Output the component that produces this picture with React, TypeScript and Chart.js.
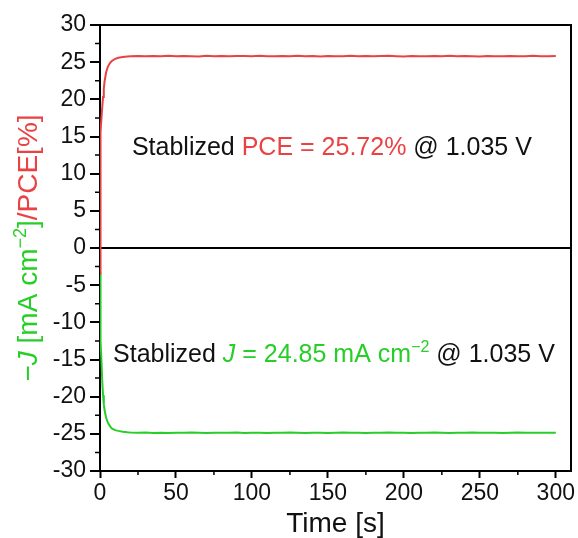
import React, { useEffect, useRef } from "react";
import { Chart, registerables } from "chart.js";

Chart.register(...registerables);

// ---- data ----
const timeS = [
  0, 0.2, 0.5, 1, 1.5, 2, 2.5, 3, 4, 5, 6, 7, 8, 10, 12, 15, 18, 20,
  25, 30, 35, 40, 45, 50, 55, 60, 65, 70, 75, 80, 85, 90, 95, 100,
  105, 110, 115, 120, 125, 130, 135, 140, 145, 150, 155, 160, 165, 170, 175, 180,
  185, 190, 195, 200, 205, 210, 215, 220, 225, 230, 235, 240, 245, 250,
  255, 260, 265, 270, 275, 280, 285, 290, 295, 300,
];

const pceValues = [
  -3.4, 12.0, 15.6, 17.6, 19.0, 20.3, 21.4, 22.4, 23.6, 24.3, 24.7, 25.0, 25.2, 25.45, 25.6, 25.7, 25.76, 25.8,
  25.82, 25.78, 25.84, 25.8, 25.86, 25.79, 25.83, 25.81, 25.77, 25.85,
  25.8, 25.83, 25.78, 25.84, 25.82, 25.79, 25.86, 25.81, 25.78, 25.83,
  25.8, 25.85, 25.79, 25.82, 25.77, 25.84, 25.81, 25.8, 25.86, 25.79,
  25.83, 25.78, 25.82, 25.85, 25.8, 25.77, 25.83, 25.81, 25.79, 25.84,
  25.8, 25.86, 25.78, 25.82, 25.8, 25.77, 25.84, 25.81, 25.79, 25.83,
  25.8, 25.78, 25.85, 25.81, 25.79, 25.82,
];

const jValues = [
  -3.3, -9.5, -12.5, -15.4, -18.0, -19.8, -21.0, -21.8, -22.8, -23.4, -23.8, -24.1, -24.3, -24.5, -24.6, -24.72, -24.8, -24.83,
  -24.86, -24.83, -24.88, -24.85, -24.9, -24.84, -24.87, -24.82, -24.86, -24.89,
  -24.84, -24.87, -24.85, -24.83, -24.88, -24.86, -24.84, -24.9, -24.85, -24.87,
  -24.83, -24.86, -24.88, -24.84, -24.85, -24.89, -24.86, -24.82, -24.87, -24.85,
  -24.88, -24.84, -24.86, -24.83, -24.87, -24.85, -24.89, -24.84, -24.86, -24.82,
  -24.85, -24.88, -24.84, -24.86, -24.83, -24.87, -24.85, -24.84, -24.88, -24.86,
  -24.83, -24.85, -24.87, -24.84, -24.86, -24.85,
];

const xMajorTicks = [0, 50, 100, 150, 200, 250, 300];
const xMinorTicks = [25, 75, 125, 175, 225, 275];
const yMajorTicks = [-30, -25, -20, -15, -10, -5, 0, 5, 10, 15, 20, 25, 30];
const yMinorTicks = [-27.5, -22.5, -17.5, -12.5, -7.5, -2.5, 2.5, 7.5, 12.5, 17.5, 22.5, 27.5];

const xRange = [0, 310];
const yRange = [-30, 30];

const pceLabelPos = [21, 13.7];
const jLabelPos = [8.6, -14.1];

const RED = "rgb(234,66,66)";
const GREEN = "rgb(40,206,40)";
const FONT = "'Liberation Sans', Arial, sans-serif";

type Seg = { text: string; color: string; size: number; italic?: boolean; dy?: number };

function drawRich(ctx: CanvasRenderingContext2D, segs: Seg[], x: number, y: number, align: "left" | "center") {
  ctx.save();
  ctx.textAlign = "left";
  let total = 0;
  const widths = segs.map((s) => {
    ctx.font = `${s.italic ? "italic " : ""}${s.size}px ${FONT}`;
    const w = ctx.measureText(s.text).width;
    total += w;
    return w;
  });
  let cx = align === "center" ? x - total / 2 : x;
  segs.forEach((s, i) => {
    ctx.font = `${s.italic ? "italic " : ""}${s.size}px ${FONT}`;
    ctx.fillStyle = s.color;
    ctx.fillText(s.text, cx, y + (s.dy || 0));
    cx += widths[i];
  });
  ctx.restore();
}

const decorPlugin = {
  id: "decor",
  afterDatasetsDraw(chart: any) {
    const ctx: CanvasRenderingContext2D = chart.ctx;
    const xs = chart.scales.x;
    const ys = chart.scales.y;
    ctx.save();
    ctx.textBaseline = "alphabetic";
    const px1 = xs.getPixelForValue(pceLabelPos[0]);
    const py1 = ys.getPixelForValue(pceLabelPos[1]) + 9;
    drawRich(ctx, [
      { text: "Stablized ", color: "#111", size: 25 },
      { text: "PCE = 25.72%", color: RED, size: 25 },
      { text: " @ 1.035 V", color: "#111", size: 25 },
    ], px1, py1, "left");
    const px2 = xs.getPixelForValue(jLabelPos[0]);
    const py2 = ys.getPixelForValue(jLabelPos[1]) + 9;
    drawRich(ctx, [
      { text: "Stablized ", color: "#111", size: 25 },
      { text: "J", color: GREEN, size: 25, italic: true },
      { text: " = 24.85 mA cm", color: GREEN, size: 25 },
      { text: "\u22122", color: GREEN, size: 16, dy: -10 },
      { text: " @ 1.035 V", color: "#111", size: 25 },
    ], px2, py2, "left");
    ctx.restore();
  },
  afterDraw(chart: any) {
    const ctx: CanvasRenderingContext2D = chart.ctx;
    const a = chart.chartArea;
    const xs = chart.scales.x;
    const ys = chart.scales.y;
    ctx.save();
    // frame (top and right sides)
    ctx.strokeStyle = "#000";
    ctx.lineWidth = 2;
    ctx.beginPath();
    ctx.moveTo(a.left, a.top);
    ctx.lineTo(a.right, a.top);
    ctx.lineTo(a.right, a.bottom);
    ctx.stroke();
    // minor ticks
    ctx.lineWidth = 1.5;
    ctx.beginPath();
    xMinorTicks.forEach((v) => {
      const p = xs.getPixelForValue(v);
      ctx.moveTo(p, a.bottom);
      ctx.lineTo(p, a.bottom + 4);
    });
    yMinorTicks.forEach((v) => {
      const p = ys.getPixelForValue(v);
      ctx.moveTo(a.left, p);
      ctx.lineTo(a.left - 5, p);
    });
    ctx.stroke();
    // x title
    ctx.textBaseline = "alphabetic";
    drawRich(ctx, [{ text: "Time [s]", color: "#111", size: 28 }], (a.left + a.right) / 2, 532, "center");
    // y title
    ctx.translate(37, (a.top + a.bottom) / 2);
    ctx.rotate(-Math.PI / 2);
    drawRich(ctx, [
      { text: "\u2212", color: GREEN, size: 28 },
      { text: "J", color: GREEN, size: 28, italic: true },
      { text: " [mA cm", color: GREEN, size: 28 },
      { text: "\u22122", color: GREEN, size: 18, dy: -11 },
      { text: "]", color: GREEN, size: 28 },
      { text: "/PCE[%]", color: RED, size: 28 },
    ], 0, 0, "center");
    ctx.restore();
  },
};

export default function App() {
  const ref = useRef<HTMLCanvasElement | null>(null);
  useEffect(() => {
    if (!ref.current) return;
    const chart = new Chart(ref.current, {
      type: "line",
      data: {
        labels: timeS,
        datasets: [
          {
            label: "PCE",
            data: timeS.map((t, i) => ({ x: t, y: pceValues[i] })),
            borderColor: RED,
            borderWidth: 2,
            pointRadius: 0,
            tension: 0,
          },
          {
            label: "J",
            data: timeS.map((t, i) => ({ x: t, y: jValues[i] })),
            borderColor: GREEN,
            borderWidth: 2,
            pointRadius: 0,
            tension: 0,
          },
        ],
      },
      options: {
        animation: false,
        responsive: false,
        devicePixelRatio: 1,
        layout: { padding: { top: 25, right: 7, left: 0, bottom: 0 } },
        plugins: { legend: { display: false }, tooltip: { enabled: false } },
        scales: {
          x: {
            type: "linear",
            min: xRange[0],
            max: xRange[1],
            afterBuildTicks: (s: any) => {
              s.ticks = xMajorTicks.map((v) => ({ value: v }));
            },
            afterFit: (s: any) => {
              s.height = 67;
            },
            ticks: {
              font: { family: FONT, size: 23 },
              color: "#111",
              padding: 2,
              maxRotation: 0,
              autoSkip: false,
              callback: (v: any) => String(v),
            },
            grid: {
              drawOnChartArea: false,
              drawTicks: true,
              tickLength: 7,
              tickWidth: 2,
              tickColor: "#000",
            },
            border: { display: true, color: "#000", width: 2 },
          },
          y: {
            type: "linear",
            min: yRange[0],
            max: yRange[1],
            afterBuildTicks: (s: any) => {
              s.ticks = yMajorTicks.map((v) => ({ value: v }));
            },
            afterFit: (s: any) => {
              s.width = 100;
            },
            ticks: {
              font: { family: FONT, size: 23 },
              color: "#111",
              padding: 4,
              autoSkip: false,
              callback: (v: any) => String(v),
            },
            grid: {
              drawOnChartArea: true,
              color: (c: any) => (c.tick && c.tick.value === 0 ? "#000" : "rgba(0,0,0,0)"),
              lineWidth: 2,
              drawTicks: true,
              tickLength: 10,
              tickWidth: 2,
              tickColor: "#000",
            },
            border: { display: true, color: "#000", width: 2 },
          },
        },
      },
      plugins: [decorPlugin],
    });
    return () => chart.destroy();
  }, []);
  return (
    <div style={{ position: "absolute", left: 0, top: 0, width: 578, height: 538, background: "#fff" }}>
      <canvas ref={ref} width={578} height={538} />
    </div>
  );
}
